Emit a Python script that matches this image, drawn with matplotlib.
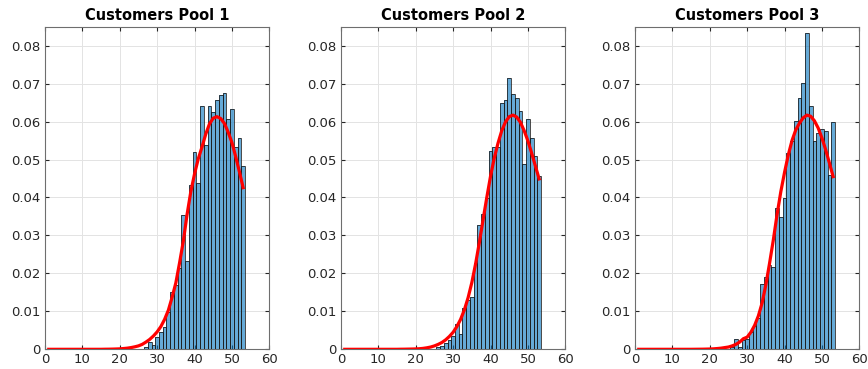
import numpy as np
import matplotlib
matplotlib.use("Agg")
import matplotlib.pyplot as plt
from matplotlib.ticker import FuncFormatter

# histogram bins (integer centres) and probabilities
bins1 = list(range(27, 54))
prob1 = [0.0007, 0.0018, 0.0012, 0.0033, 0.0046, 0.0060, 0.0099, 0.0152, 0.0169,
         0.0213, 0.0354, 0.0233, 0.0433, 0.0521, 0.0437, 0.0641, 0.0538, 0.0641,
         0.0626, 0.0657, 0.0670, 0.0676, 0.0607, 0.0632, 0.0533, 0.0556, 0.0483]

bins2 = [20] + list(range(25, 54))
prob2 = [0.0004, 0.0002, 0.0005, 0.0008, 0.0016, 0.0025, 0.0035, 0.0067, 0.0040,
         0.0110, 0.0130, 0.0137, 0.0227, 0.0327, 0.0357, 0.0398, 0.0522, 0.0532,
         0.0532, 0.0650, 0.0657, 0.0716, 0.0672, 0.0661, 0.0628, 0.0488, 0.0607,
         0.0556, 0.0509, 0.0457]

bins3 = list(range(26, 54))
prob3 = [0.0005, 0.0026, 0.0005, 0.0025, 0.0027, 0.0046, 0.0061, 0.0082, 0.0171,
         0.0191, 0.0222, 0.0218, 0.0373, 0.0349, 0.0398, 0.0518, 0.0549, 0.0602,
         0.0661, 0.0702, 0.0834, 0.0641, 0.0549, 0.0569, 0.0580, 0.0575, 0.0458,
         0.0600]

# fitted density, sampled at x = 1..53 (first 15 points are zero)
xfit = list(range(1, 54))
fit1 = [0]*15 + [0.00002, 0.00003, 0.00005, 0.00008, 0.00012, 0.0002, 0.0003,
        0.00045, 0.00065, 0.0009, 0.0013, 0.0019, 0.0026, 0.0035, 0.0046, 0.0060,
        0.0079, 0.0103, 0.0137, 0.0175, 0.0228, 0.0285, 0.0355, 0.0415, 0.0462,
        0.0502, 0.0533, 0.0567, 0.0594, 0.0609, 0.0613, 0.0608, 0.0595, 0.0572,
        0.0545, 0.0508, 0.0468, 0.0426]
fit2 = [0]*15 + [0.00002, 0.00003, 0.00005, 0.00007, 0.0001, 0.00015, 0.00025,
        0.0004, 0.0006, 0.0009, 0.0013, 0.0018, 0.0025, 0.0034, 0.0045, 0.0060,
        0.0079, 0.0104, 0.0136, 0.0176, 0.0225, 0.0281, 0.0341, 0.0400, 0.0456,
        0.0504, 0.0543, 0.0576, 0.0599, 0.0613, 0.0617, 0.0612, 0.0598, 0.0576,
        0.0549, 0.0517, 0.0483, 0.0449]
fit3 = [0]*15 + [0.00001, 0.00002, 0.00003, 0.00005, 0.00008, 0.00012, 0.0002,
        0.0003, 0.00045, 0.0006, 0.0009, 0.0013, 0.0019, 0.0028, 0.0032, 0.0045,
        0.0063, 0.0088, 0.0122, 0.0170, 0.0227, 0.0288, 0.0355, 0.0415, 0.0466,
        0.0512, 0.0550, 0.0578, 0.0596, 0.0610, 0.0617, 0.0614, 0.0602, 0.0583,
        0.0557, 0.0526, 0.0491, 0.0455]

titles = ["Customers Pool 1", "Customers Pool 2", "Customers Pool 3"]
lefts = [45, 341, 635]

plt.rcParams['font.family'] = 'DejaVu Sans'
fig = plt.figure(figsize=(8.68, 3.69), dpi=100)

data = [(bins1, prob1, fit1), (bins2, prob2, fit2), (bins3, prob3, fit3)]
for i, (bx, by, fy) in enumerate(data):
    ax = fig.add_axes([lefts[i] / 868, 19.7 / 369, 224.3 / 868, 322.6 / 369])
    ax.bar(bx, by, width=1, color=(0, 0.447, 0.741), alpha=0.6,
           edgecolor='none', zorder=2)
    ax.bar(bx, by, width=1, fill=False, edgecolor='#1a1a1a', linewidth=0.7,
           alpha=0.8, zorder=3)
    ax.plot(xfit, fy, color='red', linewidth=2.3, zorder=4)

    ax.set_xlim(0, 60)
    ax.set_ylim(0, 0.085)
    ax.set_xticks(range(0, 61, 10))
    ax.set_yticks(np.arange(0, 0.081, 0.01))
    ax.yaxis.set_major_formatter(FuncFormatter(lambda v, p: '0' if abs(v) < 1e-9 else '%.2f' % v))
    ax.grid(True, color='#e3e3e3', linewidth=0.7, zorder=0)
    ax.set_axisbelow(True)
    ax.tick_params(direction='in', length=3, labelsize=9.5, colors='#262626',
                   top=True, right=True, pad=3)
    for s in ax.spines.values():
        s.set_color('#6e6e6e')
        s.set_linewidth(0.8)
    ax.set_title(titles[i], fontsize=10.5, fontweight='bold', pad=5)

fig.savefig("out.png", dpi=100)
